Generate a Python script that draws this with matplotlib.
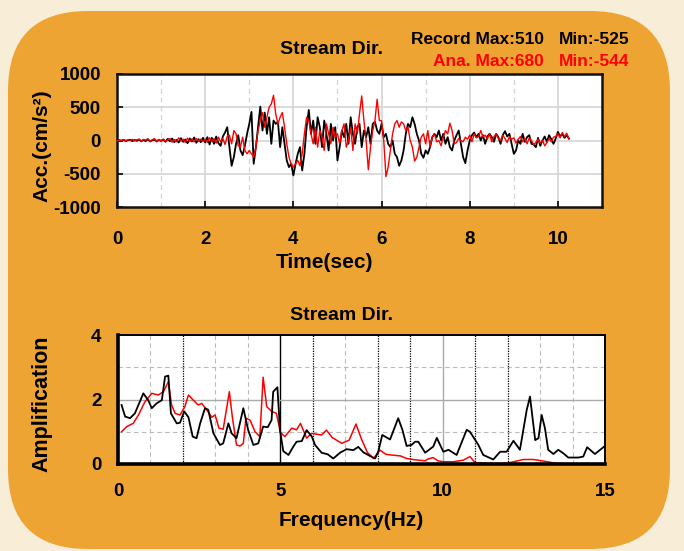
import numpy as np
import matplotlib
matplotlib.use("Agg")
import matplotlib.pyplot as plt
from matplotlib.patches import FancyBboxPatch

plt.rcParams['font.family'] = ['Liberation Sans', 'DejaVu Sans']
plt.rcParams['font.weight'] = 'bold'
plt.rcParams['axes.unicode_minus'] = False

# ---------------- data: acceleration time histories (dt = 0.05 s) ----------------
dt = 0.05
acc_record = (
    [0, 5, -5, 10, -8, 5, 12, -10, 8, -5, 15, -12, 10, -8, 20, -15, 5, 12, -10, 8]
    + [-5, 15, -20, 25, -10, 30, -25, 10, -30, 35, -20, 15, -40, 30, -15, 45, -35, 20, -25, 40]
    + [-30, 50, -60, 40, -50, 60, -40, -80, 60, 120, 200, -100, -380, -250, -50, 80, -150, -220, -80, 100]
    + [250, 430, -350, -100, 200, 510, 150, 420, 100, 350, -50, 300, 250, 280, -100, 200, -50, -300, -400, -350]
    + [-525, -350, -200, -100, -450, -200, 200, 460, 100, 300, -50, 350, 200, -100, 300, 100, -150, 250, 0, 200]
    + [-300, -100, 150, 50, 250, -50, 350, 100, -50, 200, 250, -100, 150, 50, 200, -50, 250, 280, 150, 100]
    + [250, 50, 100, -50, -100, 0, -200, -250, -380, -300, -150, 100, 250, 200, 350, 250, 100, 0, -200, -260]
    + [-150, -200, -100, 50, 100, 50, 150, 0, 100, -50, 50, -100, -150, 0, 80, 150, -50, -250, -340, -150]
    + [0, 80, 120, 50, 100, 0, 80, -50, 60, 100, 50, -20, 100, 50, -50, 80, 140, 60, 100, -50]
    + [-200, -150, 0, -50, 100, -20, 50, 80, -50, -60, -100, 40, -80, 0, 60, -20, 80, 20, -50, 30]
    + [130, 60, 100, 40, 80, 30]
)
acc_analysis = (
    [0, 5, 3, 8, 0, 10, 5, 15, -5, 10, 20, -10, 15, 5, 25, -15, 10, 30, -20, 15]
    + [-10, 20, -15, 10, 30, -25, 15, -20, 40, -10, 20, -30, 35, -15, 25, -20, 30, -10, 20, -15]
    + [20, -30, 40, -10, 30, -40, 50, -20, 30, -60, 60, 80, -50, 150, 100, -80, -100, 50, -150, -200]
    + [-150, -200, -250, -100, 150, 300, 420, 200, 350, 500, 550, 680, 400, 250, 350, 420, 200, -50, -250, -350]
    + [-400, -350, -300, -380, -200, 100, 350, 300, 100, -50, 200, -100, 150, 50, -150, 250, 100, -50, 200, 50]
    + [100, -50, 150, 250, -100, 0, 200, -150, 250, 100, 400, 670, 300, 0, -440, -100, 150, 300, 620, 300]
    + [300, 0, -544, -400, -150, 100, 250, 300, 200, 280, 250, 150, 200, 0, -100, -310, -250, -100, 50, 100]
    + [-50, 150, -100, 50, 100, -20, 0, -80, 50, 150, 100, 260, 150, -50, -30, 30, 0, -20, 50, 20]
    + [80, -20, 100, 40, 60, 150, 50, 80, 20, 100, -20, 60, 100, 30, 0, 80, 30, -30, 60, 20]
    + [40, -40, 20, 60, -20, 30, -50, 40, 0, -60, -30, 20, -40, 10, -80, -30, 30, -20, 50, 60]
    + [100, 40, 120, 60, 110, 20]
)
time_sec = np.arange(len(acc_record)) * dt

# ---------------- data: amplification spectra ----------------
freq_record = [0.11, 0.22, 0.37, 0.52, 0.78, 0.93, 1.04, 1.19, 1.35, 1.45, 1.55, 1.63, 1.81, 1.91,
               2.04, 2.17, 2.30, 2.42, 2.53, 2.68, 2.78, 2.94, 3.14, 3.24, 3.40, 3.50, 3.65, 3.86,
               4.01, 4.17, 4.32, 4.47, 4.61, 4.73, 4.78, 4.91, 4.99, 5.09, 5.25, 5.40, 5.50, 5.66,
               5.81, 5.97, 6.07, 6.27, 6.46, 6.63, 6.84, 7.04, 7.25, 7.40, 7.56, 7.76, 7.92, 8.02,
               8.14, 8.38, 8.63, 8.76, 8.89, 9.04, 9.15, 9.25, 9.46, 9.71, 9.82, 10.02, 10.18, 10.43,
               10.74, 10.84, 11.10, 11.25, 11.56, 11.77, 11.97, 12.18, 12.38, 12.59, 12.69, 12.85,
               12.95, 13.05, 13.15, 13.25, 13.41, 13.56, 13.72, 13.87, 14.18, 14.33, 14.45, 14.69, 15.0]
amp_record = [1.83, 1.47, 1.42, 1.57, 2.19, 1.98, 1.73, 1.88, 1.98, 2.71, 2.74, 1.57, 1.26, 1.28,
              1.63, 1.45, 0.85, 0.80, 1.26, 1.73, 1.68, 0.95, 0.59, 0.64, 1.26, 0.95, 0.80, 1.73,
              1.05, 0.59, 0.64, 1.16, 1.14, 1.36, 2.24, 2.38, 1.05, 0.40, 0.28, 0.54, 0.69, 0.71,
              1.05, 0.85, 0.59, 0.35, 0.30, 0.17, 0.35, 0.46, 0.43, 0.53, 0.36, 0.25, 0.17, 0.40,
              0.90, 0.76, 1.42, 1.06, 0.56, 0.59, 0.69, 0.69, 0.35, 0.54, 0.81, 0.38, 0.44, 0.28,
              1.06, 1.00, 0.59, 0.28, 0.14, 0.38, 0.38, 0.72, 0.44, 1.68, 2.09, 0.74,
              0.80, 1.52, 1.11, 0.44, 0.31, 0.44, 0.33, 0.20, 0.20, 0.23, 0.52, 0.31, 0.56]
freq_analysis = [0.11, 0.27, 0.47, 0.63, 0.83, 1.04, 1.24, 1.40, 1.55, 1.65, 1.76, 1.91, 2.06, 2.17,
                 2.32, 2.47, 2.58, 2.73, 2.89, 2.99, 3.11, 3.24, 3.43, 3.52, 3.65, 3.76, 3.86, 3.94,
                 4.07, 4.22, 4.37, 4.47, 4.58, 4.73, 4.88, 5.00, 5.14, 5.35, 5.50, 5.62, 5.81, 5.96,
                 6.27, 6.42, 6.60, 6.89, 7.12, 7.33, 7.50, 7.68, 7.87, 8.07, 8.25, 8.50, 8.70, 8.89,
                 9.15, 9.46, 9.56, 9.71, 9.85, 10.02, 10.33, 10.64, 10.84, 11.0, 11.36, 11.97, 12.49,
                 12.79, 13.05, 13.5, 14.0, 15.0]
amp_analysis = [1.00, 1.16, 1.26, 1.52, 1.93, 2.19, 2.14, 2.24, 2.55, 1.83, 1.57, 1.52, 1.78, 2.14,
                1.98, 1.83, 1.88, 1.68, 1.45, 1.52, 1.11, 1.08, 2.24, 1.47, 0.59, 0.56, 0.64, 1.42,
                1.36, 1.00, 0.85, 2.69, 1.78, 1.63, 1.57, 0.98, 0.85, 1.11, 1.06, 1.26, 0.80, 0.95,
                0.90, 1.05, 0.82, 0.64, 0.74, 1.24, 0.77, 0.36, 0.17, 0.43, 0.30, 0.27, 0.25, 0.17,
                0.13, 0.10, 0.16, 0.20, 0.10, 0.07, 0.07, 0.12, 0.23, 0.04, 0.02, 0.02, 0.14,
                0.14, 0.10, 0.02, 0.01, 0.01]

title_text = "Stream Dir."
rec_label = ["Record Max:510", "Min:-525"]
ana_label = ["Ana. Max:680", "Min:-544"]

# ---------------- figure ----------------
W, H = 684, 551
fig = plt.figure(figsize=(W / 100, H / 100), dpi=100)
fig.patch.set_facecolor('#F8EDD6')

bg = fig.add_axes([0, 0, 1, 1])
bg.set_xlim(0, W)
bg.set_ylim(H, 0)
bg.axis('off')
bg.add_patch(FancyBboxPatch((8, 11), 662, 538, boxstyle="round,pad=0,rounding_size=80",
                            facecolor='#EEA433', edgecolor='none'))

def px_axes(l, t, r, b):
    return fig.add_axes([l / W, 1 - b / H, (r - l) / W, (b - t) / H])

GRID = '#D4D4D4'
TICK_FS = 13.5

# ---- top: acceleration ----
ax1 = px_axes(117, 74, 602, 207)
ax1.set_facecolor('white')
ax1.set_xlim(0, 11)
ax1.set_ylim(-1000, 1000)
for x in [1, 3, 5, 7, 9]:
    ax1.axvline(x, color=GRID, lw=0.9, ls=(0, (4, 3)), zorder=0)
for x in [2, 4, 6, 8, 10]:
    ax1.axvline(x, color=GRID, lw=1.2, zorder=0)
for y in [-500, 0, 500]:
    ax1.axhline(y, color=GRID, lw=1.2, zorder=0)
ax1.plot(time_sec, acc_record, color='black', lw=1.3, zorder=2)
ax1.plot(time_sec, acc_analysis, color='#FF0000', lw=1.0, zorder=3)
ax1.set_xticks([0, 2, 4, 6, 8, 10])
ax1.set_yticks([-1000, -500, 0, 500, 1000])
ax1.tick_params(axis='x', direction='in', length=4, width=1.2, pad=17, labelsize=TICK_FS)
ax1.tick_params(axis='y', direction='in', length=4, width=1.2, pad=11.5, labelsize=TICK_FS)
for s in ax1.spines.values():
    s.set_linewidth(1.8)
    s.set_color('#111111')

# ---- bottom: amplification ----
ax2 = px_axes(118, 335, 605, 464)
ax2.set_facecolor('white')
ax2.set_xlim(0, 15)
ax2.set_ylim(0, 4)
for x in [1, 3, 4, 7, 13, 14]:
    ax2.axvline(x, color='#BBBBBB', lw=0.8, ls=(0, (4, 3)), zorder=0)
for x in [2, 6, 8, 9, 11, 12]:
    ax2.axvline(x, color='black', lw=0.9, ls=(0, (1, 1)), zorder=0)
ax2.axvline(5, color='black', lw=1.0, zorder=0)
ax2.axvline(10, color='#AAAAAA', lw=1.0, zorder=0)
ax2.axhline(2, color='#AAAAAA', lw=1.0, zorder=0)
for y in [1, 3]:
    ax2.axhline(y, color='#BBBBBB', lw=0.8, ls=(0, (4, 3)), zorder=0)
ax2.plot(freq_analysis, amp_analysis, color='#FF0000', lw=1.1, zorder=2)
ax2.plot(freq_record, amp_record, color='black', lw=1.3, zorder=3)
ax2.set_xticks([0, 5, 10, 15])
ax2.set_yticks([0, 2, 4])
ax2.tick_params(axis='both', length=0, labelsize=TICK_FS)
ax2.tick_params(axis='x', pad=14)
ax2.tick_params(axis='y', pad=12)
ax2.spines['left'].set_linewidth(2.6)
ax2.spines['bottom'].set_linewidth(2.6)
ax2.spines['top'].set_linewidth(1.4)
ax2.spines['right'].set_linewidth(1.4)

# ---- titles / labels / annotations (pixel positions) ----
def ftext(x, y, s, **kw):
    fig.text(x / W, 1 - y / H, s, **kw)

ftext(331, 50, title_text, ha='center', va='center', fontsize=14, fontweight='bold')
ftext(341, 316, title_text, ha='center', va='center', fontsize=14, fontweight='bold')
ftext(544, 40, rec_label[0], ha='right', va='center', fontsize=12.5, fontweight='bold', color='black')
ftext(629, 40, rec_label[1], ha='right', va='center', fontsize=12.5, fontweight='bold', color='black')
ftext(544, 62, ana_label[0], ha='right', va='center', fontsize=12.5, fontweight='bold', color='#FF0000')
ftext(629, 62, ana_label[1], ha='right', va='center', fontsize=12.5, fontweight='bold', color='#FF0000')
ftext(325, 263, "Time(sec)", ha='center', va='center', fontsize=15, fontweight='bold')
ftext(351, 521, "Frequency(Hz)", ha='center', va='center', fontsize=15, fontweight='bold')
ftext(42, 146, "Acc.(cm/s²)", ha='center', va='center', rotation=90, fontsize=15, fontweight='bold')
ftext(42, 404, "Amplification", ha='center', va='center', rotation=90, fontsize=15.5, fontweight='bold')

fig.savefig("out.png", dpi=100, facecolor=fig.get_facecolor())
